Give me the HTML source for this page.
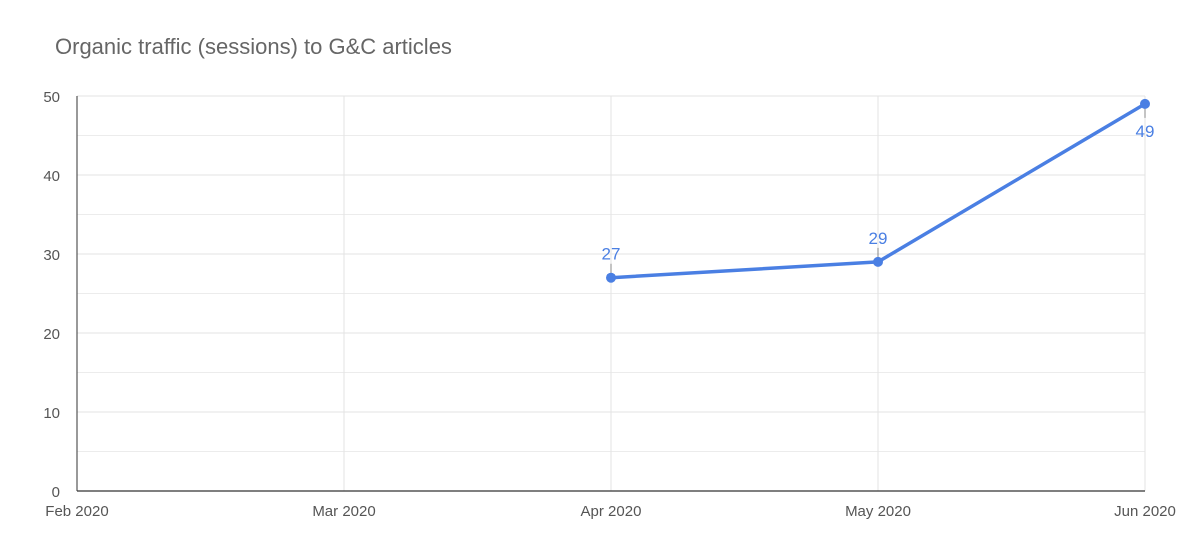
<!DOCTYPE html>
<html><head><meta charset="utf-8"><style>
html,body{margin:0;padding:0;background:#fff;width:1200px;height:544px;overflow:hidden}
svg text{font-family:"Liberation Sans",Arial,sans-serif}
</style></head><body>
<svg id="chart" width="1200" height="544">
<text x="55" y="54" font-size="22" fill="#666">Organic traffic (sessions) to G&amp;C articles</text>
<g id="grid"></g><g id="axes"></g><g id="series"></g>
</svg>
<script>
const categories = ["Feb 2020","Mar 2020","Apr 2020","May 2020","Jun 2020"];
const values = [null,null,27,29,49];
const yTicks = [0,10,20,30,40,50];
const yMinor = [5,15,25,35,45];
const labelPos = ["above","above","above","above","below"];
const NS="http://www.w3.org/2000/svg";
const L=77,R=1145,T=96,B=491,yMax=50;
const x=i=>L+(R-L)*i/(categories.length-1);
const y=v=>B-(B-T)*v/yMax;
function mk(tag,attrs,parent,txt){const e=document.createElementNS(NS,tag);for(const k in attrs)e.setAttribute(k,attrs[k]);if(txt!=null)e.textContent=txt;parent.appendChild(e);return e;}
const grid=document.getElementById('grid'),axes=document.getElementById('axes'),ser=document.getElementById('series');
yMinor.forEach(v=>{const l=mk('line',{x1:L,x2:R,y1:y(v),y2:y(v),stroke:'#ececec','stroke-width':1},grid);

});
yTicks.forEach(v=>{if(v>0){const l=mk('line',{x1:L,x2:R,y1:y(v),y2:y(v),stroke:'#e3e3e3','stroke-width':1},grid);

}
const t=mk('text',{x:L-17,y:y(v)+6,'font-size':15,fill:'#555','text-anchor':'end'},axes,String(v));

});
categories.forEach((c,i)=>{if(i>0){const l=mk('line',{x1:x(i),x2:x(i),y1:T,y2:B,stroke:'#e3e3e3','stroke-width':1},grid);

}
const t=mk('text',{x:x(i),y:516,'font-size':15,fill:'#555','text-anchor':'middle'},axes,c);

});
const ax=mk('line',{x1:L,x2:L,y1:T,y2:B,stroke:'#333','stroke-width':1},axes);


const bx=mk('line',{x1:L,x2:R,y1:B,y2:B,stroke:'#333','stroke-width':1.2},axes);


const pts=[];values.forEach((v,i)=>{if(v!=null)pts.push([x(i),y(v),v,i]);});
const pl=mk('polyline',{points:pts.map(p=>p[0]+','+p[1]).join(' '),fill:'none',stroke:'#4a7fe3','stroke-width':3.5,'stroke-linejoin':'round'},ser);


pts.forEach(p=>{const below=labelPos[p[3]]==='below';
const ld=mk('line',{x1:p[0],x2:p[0],y1:p[1],y2:below?p[1]+14:p[1]-14,stroke:'#888','stroke-width':1},ser);


const c=mk('circle',{cx:p[0],cy:p[1],r:5,fill:'#4a7fe3'},ser);


const t=mk('text',{x:p[0],y:below?p[1]+33:p[1]-18,'font-size':17,fill:'#4a7fe3','text-anchor':'middle'},ser,String(p[2]));

});
</script>
</body></html>
